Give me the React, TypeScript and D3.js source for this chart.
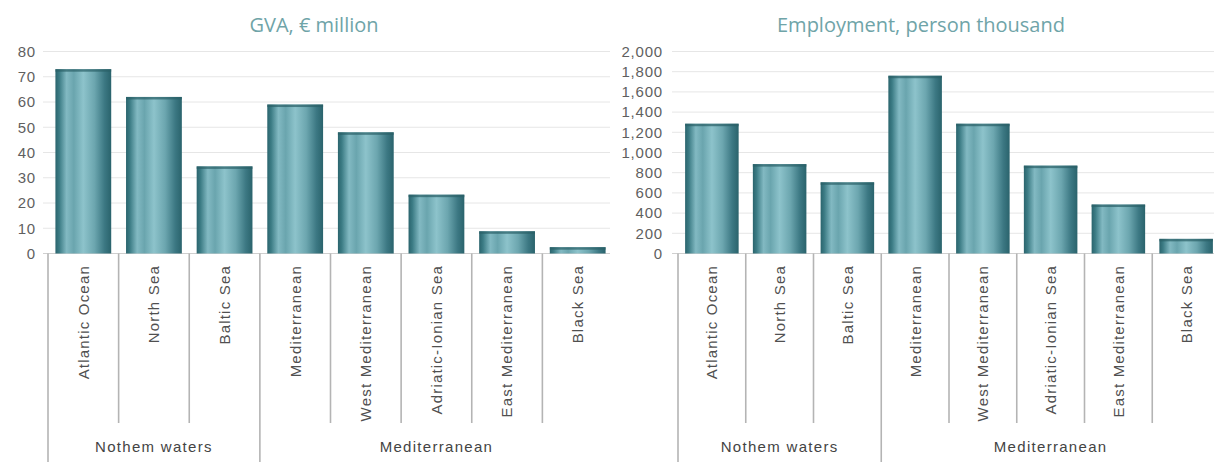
import React from "react";
import * as d3 from "d3";

const categories = [
  "Atlantic Ocean",
  "North Sea",
  "Baltic Sea",
  "Mediterranean",
  "West Mediterranean",
  "Adriatic-Ionian Sea",
  "East Mediterranean",
  "Black Sea",
];
const groupNames = ["Nothem waters", "Mediterranean"];
const groupSizes = [3, 5];

const gvaValues = [73, 62, 34.5, 59, 48, 23.3, 8.8, 2.5];
const employmentValues = [1285, 885, 705, 1760, 1285, 870, 485, 145];

const gvaTicks = [0, 10, 20, 30, 40, 50, 60, 70, 80];
const employmentTicks = [0, 200, 400, 600, 800, 1000, 1200, 1400, 1600, 1800, 2000];

const gvaTitle = "GVA, \u20ac million";
const employmentTitle = "Employment, person thousand";

const Y0 = 253.5;
const Y1 = 51.5;

type PanelProps = {
  title: string;
  titleX: number;
  values: number[];
  ticks: number[];
  xRange: [number, number];
  labelRight: number;
  gridX0: number;
  gridX1: number;
  fmt: (v: number) => string;
};

function Panel({ title, titleX, values, ticks, xRange, labelRight, gridX0, gridX1, fmt }: PanelProps) {
  const x = d3.scaleBand<string>().domain(categories).range(xRange).paddingInner(0.21).paddingOuter(0.105);
  const y = d3.scaleLinear().domain([0, ticks[ticks.length - 1]]).range([Y0, Y1]);
  const step = x.step();
  const sepX = (i: number) => xRange[0] + i * step;
  // group boundaries
  const groupStarts: number[] = [];
  let acc = 0;
  groupSizes.forEach((s) => {
    groupStarts.push(acc);
    acc += s;
  });
  const font = "'Liberation Sans', Arial, sans-serif";
  return (
    <g>
      <text
        x={titleX}
        y={32}
        textAnchor="middle"
        fontFamily="'Open Sans', sans-serif"
        fontSize={20}
        fill="#6fa4a8"
      >
        {title}
      </text>
      {ticks.map((t) => (
        <g key={t}>
          <line x1={gridX0} x2={gridX1} y1={y(t)} y2={y(t)} stroke={t === 0 ? "#cfcfcf" : "#e6e6e6"} strokeWidth={1} />
          <text
            x={labelRight}
            y={y(t)}
            dy="0.35em"
            textAnchor="end"
            fontFamily={font}
            fontSize={15}
            letterSpacing={0.8}
            fill="#5f5f5f"
          >
            {fmt(t)}
          </text>
        </g>
      ))}
      {categories.map((c, i) => (
        <g key={c}>
          <rect
            x={x(c)}
            y={y(values[i])}
            width={x.bandwidth()}
            height={Y0 - y(values[i])}
            fill="url(#barGrad)"
          />
          <rect
            x={x(c)}
            y={y(values[i])}
            width={x.bandwidth()}
            height={Math.min(2.5, Y0 - y(values[i]))}
            fill="#2a5f67"
            opacity={0.7}
          />
          <text
            transform={`translate(${(x(c) as number) + x.bandwidth() / 2},265) rotate(-90)`}
            dy="0.36em"
            textAnchor="end"
            fontFamily={font}
            fontSize={15}
            letterSpacing={1.2}
            fill="#505050"
          >
            {c}
          </text>
        </g>
      ))}
      {categories.map((c, i) => {
        const isGroup = groupStarts.includes(i);
        return (
          <line
            key={"s" + c}
            x1={sepX(i)}
            x2={sepX(i)}
            y1={Y0}
            y2={isGroup ? 462 : 423}
            stroke="#b4b4b4"
            strokeWidth={1.6}
          />
        );
      })}
      {groupNames.map((g, gi) => {
        const a = sepX(groupStarts[gi]);
        const b = sepX(groupStarts[gi] + groupSizes[gi]);
        return (
          <text
            key={g}
            x={(a + b) / 2}
            y={452}
            textAnchor="middle"
            fontFamily={font}
            fontSize={15}
            letterSpacing={1.3}
            fill="#444"
          >
            {g}
          </text>
        );
      })}
    </g>
  );
}

export default function App() {
  const fmtComma = d3.format(",");
  return (
    <div style={{ position: "absolute", left: 0, top: 0, width: 1214, height: 463, background: "#fff" }}>
      <svg width={1214} height={463} style={{ display: "block" }}>
        <defs>
          <linearGradient id="barGrad" x1="0" x2="1" y1="0" y2="0">
            <stop offset="0%" stopColor="#2a646d" />
            <stop offset="7%" stopColor="#3c7c85" />
            <stop offset="20%" stopColor="#82b9c2" />
            <stop offset="33%" stopColor="#6aa5ae" />
            <stop offset="50%" stopColor="#8dc3cb" />
            <stop offset="70%" stopColor="#6ca6af" />
            <stop offset="88%" stopColor="#3c7883" />
            <stop offset="100%" stopColor="#2a636c" />
          </linearGradient>
        </defs>
        <Panel
          title={gvaTitle}
          titleX={314}
          values={gvaValues}
          ticks={gvaTicks}
          xRange={[48, 613]}
          labelRight={36}
          gridX0={43}
          gridX1={610}
          fmt={(v) => String(v)}
        />
        <Panel
          title={employmentTitle}
          titleX={921}
          values={employmentValues}
          ticks={employmentTicks}
          xRange={[678, 1220]}
          labelRight={663}
          gridX0={672}
          gridX1={1214}
          fmt={fmtComma}
        />
      </svg>
    </div>
  );
}
